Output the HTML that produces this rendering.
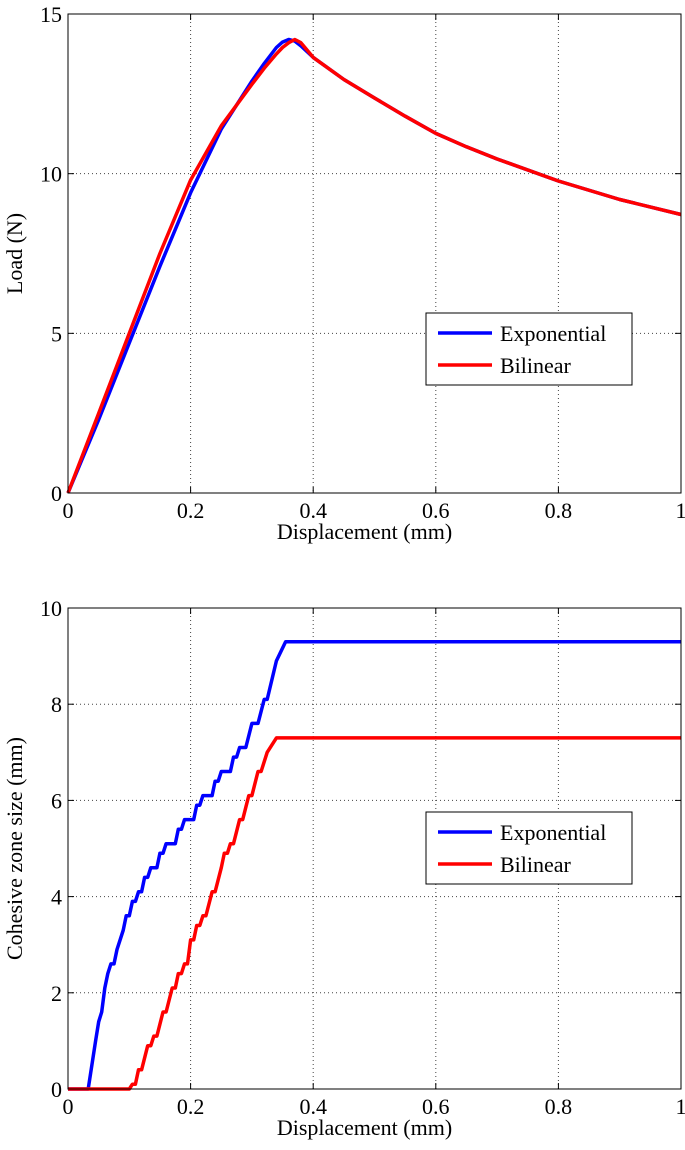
<!DOCTYPE html>
<html><head><meta charset="utf-8"><style>
html,body{margin:0;padding:0;background:#fff;}
svg{display:block;font-family:"Liberation Serif",serif;}
</style></head><body>
<svg id="chart" width="685" height="1150" xmlns="http://www.w3.org/2000/svg"></svg>
<script>
const xTicks=[0,0.2,0.4,0.6,0.8,1];
const xTickLabels=["0","0.2","0.4","0.6","0.8","1"];
const loadTicks=[0,5,10,15];
const czTicks=[0,2,4,6,8,10];
const loadExpX=[0,0.05,0.1,0.15,0.2,0.25,0.3,0.32,0.34,0.35,0.36,0.37,0.38,0.4,0.45,0.5,0.55,0.6,0.65,0.7,0.8,0.9,1];
const loadExpY=[0,2.3,4.7,7.1,9.4,11.4,12.9,13.45,13.95,14.12,14.2,14.15,14.0,13.64,12.95,12.37,11.8,11.26,10.84,10.46,9.77,9.19,8.72];
const loadBilX=[0,0.05,0.1,0.15,0.2,0.25,0.3,0.32,0.34,0.35,0.36,0.37,0.38,0.4,0.45,0.5,0.55,0.6,0.65,0.7,0.8,0.9,1];
const loadBilY=[0,2.5,5.0,7.5,9.8,11.5,12.8,13.3,13.75,13.95,14.1,14.2,14.1,13.64,12.95,12.37,11.8,11.26,10.84,10.46,9.77,9.19,8.72];
const czExpX=[0,0.033,0.045,0.05,0.055,0.06,0.065,0.07,0.075,0.08,0.09,0.095,0.1,0.105,0.11,0.115,0.12,0.125,0.13,0.135,0.145,0.15,0.155,0.16,0.175,0.18,0.185,0.19,0.205,0.21,0.215,0.22,0.235,0.24,0.245,0.25,0.265,0.27,0.275,0.28,0.29,0.3,0.31,0.32,0.325,0.34,0.355,1];
const czExpY=[0,0,1.0,1.4,1.6,2.1,2.4,2.6,2.6,2.9,3.3,3.6,3.6,3.9,3.9,4.1,4.1,4.4,4.4,4.6,4.6,4.9,4.9,5.1,5.1,5.4,5.4,5.6,5.6,5.9,5.9,6.1,6.1,6.4,6.4,6.6,6.6,6.9,6.9,7.1,7.1,7.6,7.6,8.1,8.1,8.9,9.3,9.3];
const czBilX=[0,0.1,0.105,0.11,0.115,0.12,0.13,0.135,0.14,0.145,0.155,0.16,0.17,0.175,0.18,0.185,0.19,0.195,0.2,0.205,0.21,0.215,0.22,0.225,0.235,0.24,0.25,0.255,0.26,0.265,0.27,0.28,0.285,0.295,0.3,0.31,0.315,0.325,0.34,1];
const czBilY=[0,0,0.1,0.1,0.4,0.4,0.9,0.9,1.1,1.1,1.6,1.6,2.1,2.1,2.4,2.4,2.6,2.6,3.1,3.1,3.4,3.4,3.6,3.6,4.1,4.1,4.6,4.9,4.9,5.1,5.1,5.6,5.6,6.1,6.1,6.6,6.6,7.0,7.3,7.3];

const svg=document.getElementById('chart');
const NS='http://www.w3.org/2000/svg';
function mk(tag,attrs,parent){const e=document.createElementNS(NS,tag);for(const k in attrs)e.setAttribute(k,attrs[k]);(parent||svg).appendChild(e);return e;}

function panel(cfg){
  const g=mk('g',{});
  
  
  const L=68,R=681,T=cfg.top,B=cfg.bottom;
  const sx=v=>L+v*(R-L);
  const sy=v=>B-(v-cfg.ymin)/(cfg.ymax-cfg.ymin)*(B-T);
  mk('rect',{x:L,y:T,width:R-L,height:B-T,fill:'#fff'},g);
  xTicks.forEach((t,i)=>{
    if(i>0&&i<xTicks.length-1){const l=mk('line',{x1:sx(t),x2:sx(t),y1:T,y2:B,stroke:'#444','stroke-width':1,'stroke-dasharray':'1,3'},g);
      }
    const tk=mk('text',{x:sx(t),y:B+25,'font-size':22,'text-anchor':'middle',fill:'#000'},g);
    tk.textContent=xTickLabels[i];
    
    mk('line',{x1:sx(t),x2:sx(t),y1:B,y2:B-6,stroke:'#000'},g);
    mk('line',{x1:sx(t),x2:sx(t),y1:T,y2:T+6,stroke:'#000'},g);
  });
  cfg.yTicks.forEach((t,i)=>{
    if(i>0&&i<cfg.yTicks.length-1){const l=mk('line',{x1:L,x2:R,y1:sy(t),y2:sy(t),stroke:'#444','stroke-width':1,'stroke-dasharray':'1,3'},g);
      }
    const tk=mk('text',{x:L-6,y:sy(t)+8,'font-size':22,'text-anchor':'end',fill:'#000'},g);
    tk.textContent=String(t);
    
    mk('line',{x1:L,x2:L+6,y1:sy(t),y2:sy(t),stroke:'#000'},g);
    mk('line',{x1:R,x2:R-6,y1:sy(t),y2:sy(t),stroke:'#000'},g);
  });
  cfg.series.forEach(s=>{
    const d=s.x.map((v,i)=>(i?'L':'M')+sx(v).toFixed(1)+','+sy(s.y[i]).toFixed(1)).join(' ');
    const p=mk('path',{d:d,fill:'none',stroke:s.color,'stroke-width':3.5,'stroke-linejoin':'round'},g);
    
  });
  const box=mk('rect',{x:L,y:T,width:R-L,height:B-T,fill:'none',stroke:'#000','stroke-width':1},g);
  
  const xt=mk('text',{x:(L+R)/2-10,y:B+46,'font-size':22,'text-anchor':'middle',fill:'#000'},g);
  xt.textContent='Displacement (mm)';
  
  const yt=mk('text',{x:0,y:0,'font-size':22,'text-anchor':'middle',fill:'#000',transform:'translate(22,'+((T+B)/2)+') rotate(-90)'},g);
  yt.textContent=cfg.ytitle;
  
  const lg=mk('g',{},g);
  
  mk('rect',{x:426,y:cfg.legTop,width:206,height:72,fill:'#fff',stroke:'#000','stroke-width':1},lg);
  cfg.series.forEach((s,i)=>{
    const yy=cfg.legTop+20+i*32;
    const e=mk('g',{},lg);
    
    mk('line',{x1:438,x2:492,y1:yy,y2:yy,stroke:s.color,'stroke-width':3.5},e);
    const t=mk('text',{x:500,y:yy+8,'font-size':22,fill:'#000'},e);
    t.textContent=s.label;
  });
}

panel({name:'load-chart',top:14,bottom:493,ymin:0,ymax:15,yTicks:loadTicks,ytitle:'Load (N)',legTop:313,
  series:[{name:'exponential-load-line',label:'Exponential',color:'#0000ff',x:loadExpX,y:loadExpY},
          {name:'bilinear-load-line',label:'Bilinear',color:'#ff0000',x:loadBilX,y:loadBilY}]});
panel({name:'cohesive-zone-chart',top:608,bottom:1089,ymin:0,ymax:10,yTicks:czTicks,ytitle:'Cohesive zone size (mm)',legTop:812,
  series:[{name:'exponential-zone-line',label:'Exponential',color:'#0000ff',x:czExpX,y:czExpY},
          {name:'bilinear-zone-line',label:'Bilinear',color:'#ff0000',x:czBilX,y:czBilY}]});
</script>
</body></html>
